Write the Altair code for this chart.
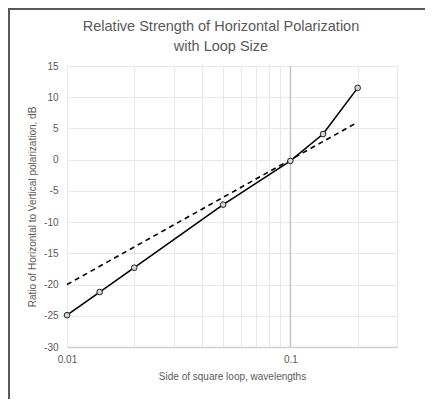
import altair as alt
import pandas as pd

# Measured series (side of loop in wavelengths vs ratio in dB)
loop_side = [0.01, 0.014, 0.02, 0.05, 0.1, 0.14, 0.2]
ratio_db = [-24.9, -21.2, -17.3, -7.2, -0.2, 4.1, 11.5]

# Reference dashed line (20 dB/decade)
ref_side = [0.01, 0.2]
ref_db = [-20.0, 6.0]

x_ticks = [0.01, 0.02, 0.03, 0.04, 0.05, 0.06, 0.07, 0.08, 0.09, 0.1, 0.2, 0.3]
y_ticks = [-30, -25, -20, -15, -10, -5, 0, 5, 10, 15]
axis_cross = [0.1]

FONT = "Liberation Sans"
GRAY = "#595959"

df = pd.DataFrame({"x": loop_side, "y": ratio_db})
df_ref = pd.DataFrame({"x": ref_side, "y": ref_db})
df_cross = pd.DataFrame({"x": axis_cross})

xscale = alt.Scale(type="log", domain=[0.01, 0.3], nice=False)
yscale = alt.Scale(domain=[-30, 15], nice=False, zero=False)

xaxis = alt.Axis(
    title="Side of square loop, wavelengths",
    values=x_ticks,
    labelExpr="abs(datum.value-0.01)<1e-9 ? '0.01' : (abs(datum.value-0.1)<1e-9 ? '0.1' : '')",
    grid=True, gridColor="#e8e8e8", gridWidth=1,
    domain=True, domainColor="#d0d0d0", domainWidth=1.5,
    ticks=False, labelPadding=7, labelFlush=False, labelOverlap=False,
    labelColor=GRAY, labelFontSize=10, labelFont=FONT,
    titleColor=GRAY, titleFontSize=10, titleFont=FONT, titleFontWeight="normal",
    titlePadding=7,
)
yaxis = alt.Axis(
    title="Ratio of Horizontal to Vertical polarization, dB",
    values=y_ticks,
    labelExpr="datum.value < 0 ? '-' + abs(datum.value) : '' + datum.value",
    grid=True, gridColor="#e8e8e8", gridWidth=1,
    domain=False, ticks=False, labelPadding=9, labelFlush=False, labelOverlap=False,
    labelColor=GRAY, labelFontSize=10, labelFont=FONT,
    titleColor=GRAY, titleFontSize=10, titleFont=FONT, titleFontWeight="normal",
    titlePadding=6,
)

X = alt.X("x:Q", scale=xscale, axis=xaxis)
Y = alt.Y("y:Q", scale=yscale, axis=yaxis)

base_axes = alt.Chart(df).mark_point(opacity=0).encode(x=X, y=Y)

cross = alt.Chart(df_cross).mark_rule(color="#c4c4c4", strokeWidth=1.5).encode(x=X)

ref_line = alt.Chart(df_ref).mark_line(
    color="black", strokeWidth=1.6, strokeDash=[5, 4]
).encode(x=X, y=Y)

main_line = alt.Chart(df).mark_line(color="black", strokeWidth=1.6).encode(x=X, y=Y)

pts = alt.Chart(df).mark_point(
    shape="circle", filled=True, fill="#d4d4d4", stroke="#222222",
    strokeWidth=1, size=32, opacity=1
).encode(x=X, y=Y)

border_top = alt.Chart(df_cross).mark_rule(color=GRAY, strokeWidth=2).encode(
    x=alt.value(-59), x2=alt.value(600), y=alt.value(-57)
)
border_left = alt.Chart(df_cross).mark_rule(color=GRAY, strokeWidth=2).encode(
    x=alt.value(-58), y=alt.value(-58), y2=alt.value(600)
)

chart = alt.layer(
    base_axes, cross, ref_line, main_line, pts, border_top, border_left
).properties(
    width=330,
    height=281,
    autosize=alt.AutoSizeParams(type="none"),
    padding={"left": 59, "top": 58, "right": 28, "bottom": 52},
    title=alt.TitleParams(
        text=["Relative Strength of Horizontal Polarization", "with Loop Size"],
        anchor="middle", dx=-11, fontSize=14.5, font=FONT, color=GRAY,
        fontWeight="normal", lineHeight=20, offset=0, dy=47,
    ),
).configure_view(stroke=None).configure(background="white")

chart.save("out.html", embed_options={"renderer": "svg", "actions": False})
